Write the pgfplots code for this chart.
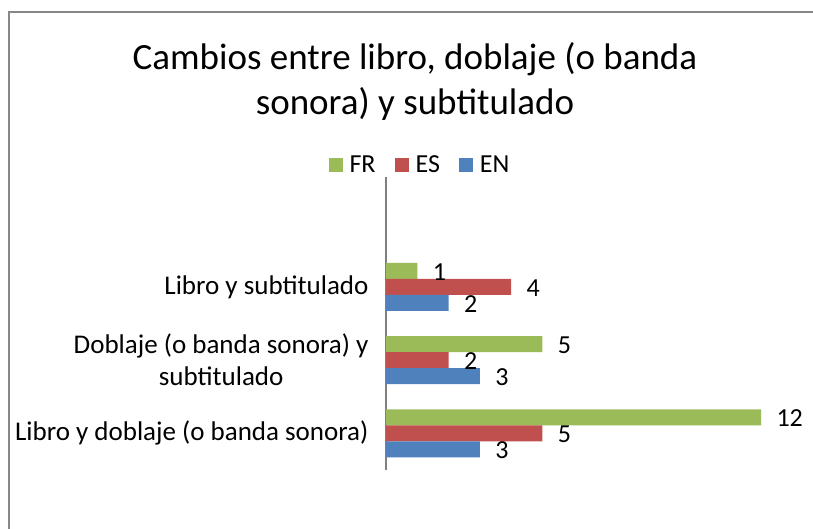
\documentclass[border=0pt]{standalone}
\usepackage{pgfplots}
\pgfplotsset{compat=1.18}
\usepackage{fontspec}
\setmainfont{Carlito}
\definecolor{cfr}{HTML}{9BBB59}
\definecolor{ces}{HTML}{C0504D}
\definecolor{cen}{HTML}{4F81BD}
\definecolor{cframe}{HTML}{878787}
\begin{document}
\begin{tikzpicture}
\useasboundingbox (0,0) rectangle (813pt,529pt);
\draw[cframe, line width=2pt] (9pt,0pt) -- (9pt,517pt) -- (813pt,517pt);
\node[font=\fontsize{37}{45}\selectfont, align=center] at (415pt,448pt) {Cambios entre libro, doblaje (o banda\\sonora) y subtitulado};
\begin{axis}[
  at={(386pt,59pt)}, anchor=south west,
  scale only axis, width=375pt, height=293pt,
  xbar, xmin=0, xmax=12, ymin=-0.5, ymax=3.5,
  bar width=0.218,
  hide x axis,
  axis y line*=left,
  y axis line style={gray, line width=1.3pt, -},
  ytick={0,1,2},
  yticklabels={Libro y doblaje (o banda sonora), {Doblaje (o banda sonora) y\\subtitulado}, Libro y subtitulado},
  yticklabel style={align=center, font=\fontsize{27}{32}\selectfont, xshift=-14pt},
  major tick length=0pt,
  /pgf/number format/assume math mode=true,
  nodes near coords,
  every node near coord/.append style={font=\fontsize{26}{32}\selectfont, text=black, xshift=12pt, yshift=-1pt},
  legend columns=3,
  legend style={at={(0.0907,1.041)}, anchor=center, draw=none, fill=none,
    font=\fontsize{26}{32}\selectfont,
    /tikz/every odd column/.append style={column sep=5pt},
    /tikz/every even column/.append style={column sep=17pt}},
  legend image code/.code={\fill[#1] (0pt,-7pt) rectangle (14pt,7pt);},
]
\addplot[fill=cfr, draw=none, bar shift=0.218] coordinates {(12,0) (5,1) (1,2)};
\addlegendentry{FR}
\addplot[fill=ces, draw=none, bar shift=0] coordinates {(5,0) (2,1) (4,2)};
\addlegendentry{ES}
\addplot[fill=cen, draw=none, bar shift=-0.218] coordinates {(3,0) (3,1) (2,2)};
\addlegendentry{EN}
\end{axis}
\end{tikzpicture}
\end{document}
